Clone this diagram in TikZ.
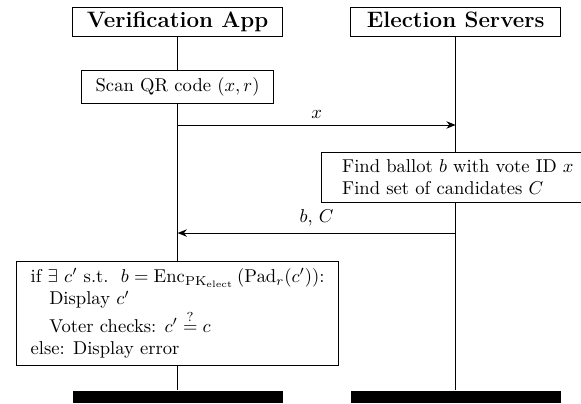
\documentclass[tikz,border=0pt]{standalone}
\usepackage{tikz}
\usetikzlibrary{arrows.meta}

\begin{document}
\begin{tikzpicture}[x=1pt,y=1pt,line width=0.5pt,
    party/.style={draw,fill=white,minimum width=113pt,font=\large\bfseries,
      text height=8.5pt,text depth=2.5pt,inner ysep=2.5pt},
    stepbox/.style={draw,fill=white,align=left,inner xsep=7.5pt,inner ysep=4pt},
    endbar/.style={fill=black,minimum width=113pt,minimum height=6.5pt,inner sep=0pt},
    msg/.style={-{Stealth[length=5pt,width=4pt]}}]
  \useasboundingbox (0,0) rectangle (312.4,216.7);
  \node[party] (app) at (95.5,204.9) {Verification App};
  \node[party] (srv) at (245,204.9) {Election Servers};
  \node[stepbox,text height=7.5pt,text depth=2.5pt] (scan) at (95.5,169.9) {Scan QR code $(x,r)$};
  \node[stepbox,inner xsep=11pt] (find) at (246.2,121.3) {Find ballot $b$ with vote ID $x$\\Find set of candidates $C$};
  \node[stepbox] (check) at (95.5,48.2)
    {if $\exists\ c'$\ s.t.\ \ $b=\mathrm{Enc}_{\mathrm{PK}_{\mathrm{elect}}}\,(\mathrm{Pad}_r(c'))$:\\
     \quad Display $c'$\\
     \quad Voter checks: $c'\stackrel{?}{=}c$\\
     else: Display error};
  \node[endbar] (append) at (95.5,3.25) {};
  \node[endbar] (srvend) at (245,3.25) {};
  % lifelines
  \draw (app.south) -- (scan.north);
  \draw (scan.south) -- (check.north);
  \draw (check.south) -- (append.north);
  \draw (srv.south) -- (srv.south |- find.north);
  \draw (srv.south |- find.south) -- (srvend.north);
  % messages
  \coordinate (app1) at (95.5,149.5);
  \coordinate (srv1) at (245,149.5);
  \coordinate (app2) at (95.5,91.4);
  \coordinate (srv2) at (245,91.4);
  \draw[msg] (app1) -- node[above] {$x$} (srv1);
  \draw[msg] (srv2) -- node[above] {$b$, $C$} (app2);
\end{tikzpicture}
\end{document}
